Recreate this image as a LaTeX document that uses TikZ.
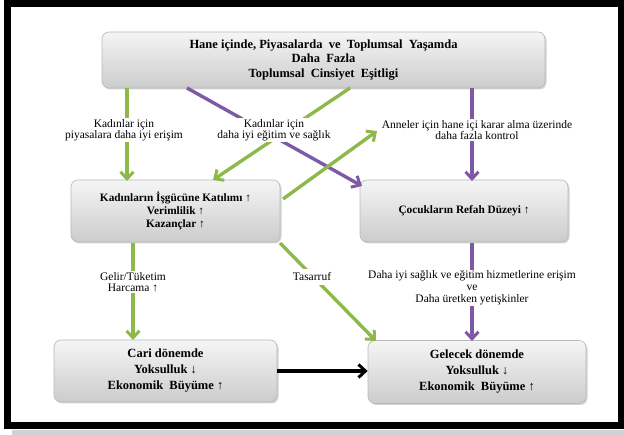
\documentclass[tikz,border=0pt]{standalone}
\usepackage{fontspec}
\setmainfont{Liberation Serif}
\usetikzlibrary{arrows.meta,shadows}
\definecolor{gr}{HTML}{8DB84A}
\definecolor{pu}{HTML}{7E5AA6}
\tikzset{
  box/.style={draw=gray!55, line width=0.6pt, rounded corners=7pt, top color=gray!8, bottom color=gray!40,
    drop shadow={shadow xshift=1.5pt, shadow yshift=-1.5pt, opacity=0.35},
    align=center, font=\bfseries, inner sep=0pt},
  lab/.style={fill=white, align=center, font=\fontsize{11.5}{11}\selectfont, inner sep=1pt},
  conn/.style={line width=3.4pt, -{Straight Barb[length=7pt,width=13pt,line width=3pt]}},
  garrow/.style={conn, draw=gr},
  parrow/.style={conn, draw=pu},
  karrow/.style={conn, draw=black},
}
\begin{document}
\begin{tikzpicture}[x=1pt,y=-1pt]
\useasboundingbox (0,0) rectangle (624,435);
\fill[gray!35] (12,430) rectangle (624,435);
\draw[line width=7pt] (7,3.5) rectangle (621,425.5);

% boxes
\node[box, minimum width=443pt, minimum height=56pt, font=\bfseries\fontsize{12.5}{14.5}\selectfont] (top) at (323.5,60)
  {Hane içinde, Piyasalarda\ \ ve\ \ Toplumsal\ \ Yaşamda\\Daha\ \ Fazla\\Toplumsal\ \ Cinsiyet\ \ Eşitligi};
\node[box, minimum width=209pt, minimum height=62pt, font=\bfseries\fontsize{11.3}{13}\selectfont] (lm) at (175.5,211)
  {Kadınların İşgücüne Katılımı ↑\\Verimlilik ↑\\Kazançlar ↑};
\node[box, minimum width=208pt, minimum height=62pt, font=\bfseries\fontsize{11.3}{13}\selectfont] (rm) at (464,211)
  {Çocukların Refah Düzeyi ↑};
\node[box, minimum width=223pt, minimum height=62pt, font=\bfseries\fontsize{12.5}{16}\selectfont] (bl) at (165.5,371)
  {Cari\ dönemde\\Yoksulluk ↓\\Ekonomik\ \ Büyüme ↑};
\node[box, minimum width=218pt, minimum height=63pt, font=\bfseries\fontsize{12.5}{16}\selectfont] (br) at (477,372)
  {Gelecek\ dönemde\\Yoksulluk ↓\\Ekonomik\ \ Büyüme ↑};

% endpoints
\coordinate (s1) at (127,88);
\coordinate (s2) at (187,88);
\coordinate (s3) at (350,88);
\coordinate (s4) at (472,88);
\coordinate (e1) at (127,181);
\coordinate (e2) at (362,186);
\coordinate (e3) at (213,180);
\coordinate (e4) at (472,181);
\coordinate (s5) at (283,199);
\coordinate (e5) at (377,131);
\coordinate (s6) at (280,243);
\coordinate (e6) at (376,341);
\coordinate (s7) at (133,243);
\coordinate (e7) at (133,340);
\coordinate (s8) at (472,243);
\coordinate (e8) at (472,341);

% connectors
\draw[garrow] (s1) -- (e1);
\draw[parrow] (s2) -- (e2);
\draw[garrow] (s3) -- (e3);
\draw[parrow] (s4) -- (e4);
\draw[garrow] (s5) -- (e5);
\draw[garrow] (s6) -- (e6);
\draw[garrow] (s7) -- (e7);
\draw[parrow] (s8) -- (e8);
\draw[karrow] (bl.east) -- (br.west |- bl.east);

% labels
\node[lab] (l1) at (124,130) {Kadınlar için\\piyasalara daha iyi erişim};
\node[lab] (l2) at (274,130) {Kadınlar için\\daha iyi eğitim ve sağlık};
\node[lab] (l3) at (477,130) {Anneler için hane içi karar alma üzerinde\\daha fazla kontrol};
\node[lab] (l4) at (133,282) {Gelir/Tüketim\\Harcama ↑};
\node[lab, inner sep=4pt] (l5) at (312,277) {Tasarruf};
\node[lab, font=\fontsize{11.5}{12}\selectfont] (l6) at (472,288) {Daha iyi sağlık ve eğitim hizmetlerine erişim\\ve\\Daha üretken yetişkinler};
\end{tikzpicture}
\end{document}
